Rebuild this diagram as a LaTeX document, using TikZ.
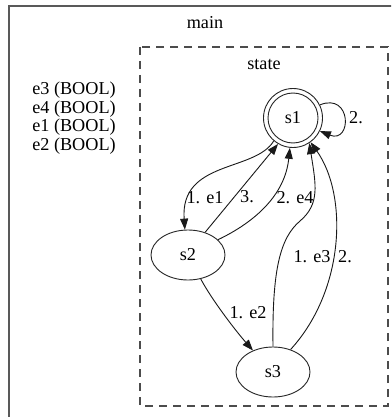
\documentclass[tikz,border=0pt]{standalone}
\usepackage{fontspec}
\setmainfont{Liberation Serif}
\usetikzlibrary{arrows.meta,shapes.geometric}

\tikzset{
  lbl/.style={inner sep=0pt, font=\fontsize{18.2}{18.6}\selectfont},
  statenode/.style={draw=black!85, line width=0.9pt, ellipse, minimum width=74pt, minimum height=50pt, inner sep=0pt, font=\fontsize{18.2}{18.6}\selectfont},
  finalnode/.style={draw=black!85, line width=0.9pt, circle, minimum size=59pt, inner sep=0pt, font=\fontsize{18.2}{18.6}\selectfont},
  trans/.style={draw=black!90, line width=0.9pt, -{Triangle[length=11pt,width=8pt]}},
  outerbox/.style={draw=black!65, line width=1.4pt},
  innerbox/.style={draw=black!70, line width=1.2pt, dash pattern=on 8pt off 6pt},
}

\begin{document}
\begin{tikzpicture}[x=1pt, y=-1pt]
  \useasboundingbox (0,0) rectangle (391,417);
  \clip (0,0) rectangle (391,417);
  \fill[white] (0,0) rectangle (391,417);

  % clusters
  \draw[outerbox] (9,6) rectangle (420,440);
  \node[lbl] (mainlbl) at (205,23) {main};
  \draw[innerbox] (140,47) rectangle (388,406);
  \node[lbl] (statelbl) at (264,64) {state};

  % variable list
  \node[lbl, align=center] (vars) at (74,118) {e3 (BOOL)\\e4 (BOOL)\\e1 (BOOL)\\e2 (BOOL)};

  % states
  \node[finalnode] (s1) at (293,118) {s1};
  \draw[draw=black!85, line width=0.9pt] (s1.center) circle (25pt);
  \node[statenode] (s2) at (188,255) {s2};
  \node[statenode] (s3) at (273,372) {s3};

  % transitions
  \draw[trans] (s1.26) .. controls (352,92) and (352,144) .. (s1.-26);
  \node[lbl] (l11) at (356,118) {2.};

  \draw[trans] (s1.-130) .. controls (255,172) and (180,160) .. (s2.97);
  \node[lbl] (l12) at (205,198) {1. e1};

  \draw[trans] (s2.53) -- (s1.-120);
  \node[lbl] (l21a) at (247,197) {3.};

  \draw[trans] (s2.27) .. controls (255,222) and (285,195) .. (s1.-96);
  \node[lbl] (l21b) at (295,198) {2. e4};

  \draw[trans] (s2.-62) .. controls (212,300) and (235,330) .. (s3.133);
  \node[lbl] (l23) at (248,313) {1. e2};

  \coordinate (bend) at (300,221);
  \draw[trans] (s3.90) .. controls (272,270) and (280,238) .. (bend)
                       .. controls (320,204) and (316,185) .. (s1.-57);
  \node[lbl] (l31a) at (312,257) {1. e3};

  \draw[trans] (s3.52) .. controls (345,290) and (348,195) .. (s1.-54);
  \node[lbl] (l31b) at (345,257) {2.};
\end{tikzpicture}
\end{document}
